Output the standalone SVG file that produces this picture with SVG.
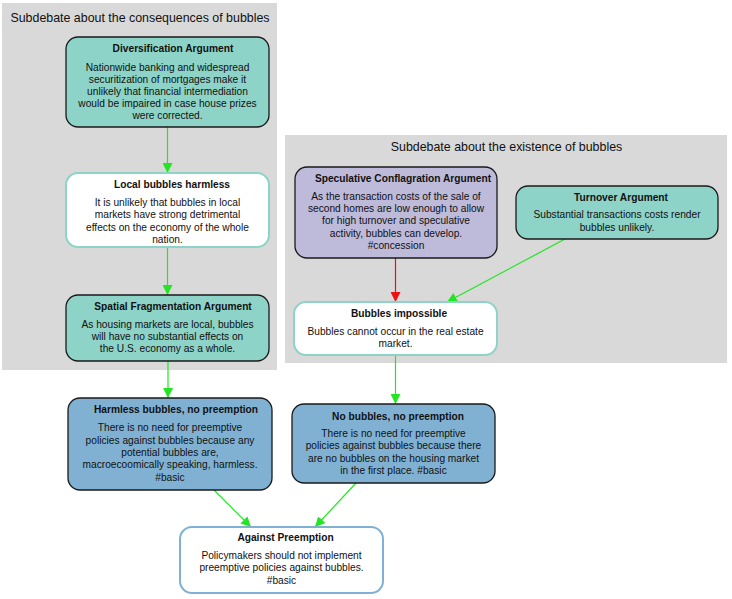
<svg xmlns="http://www.w3.org/2000/svg" width="732" height="599" viewBox="0 0 732 599">
<defs>
<style>
text{font-family:"Liberation Sans",Arial,sans-serif;fill:#111;text-anchor:middle}
.t{font-size:10.2px;font-weight:bold}
.b{font-size:10.2px}
.ct{font-size:12.4px}
.cl{fill:#d9d9d9;stroke:none}
.arg{fill:#8dd3c7;stroke:#1a1a1a;stroke-width:1.3}
.con{fill:#bebada;stroke:#1a1a1a;stroke-width:1.3}
.bas{fill:#80b1d3;stroke:#1a1a1a;stroke-width:1.3}
.stt{fill:#fff;stroke:#8dd3c7;stroke-width:2}
.stb{fill:#fff;stroke:#80b1d3;stroke-width:2}
.sup{stroke:#22e622;stroke-width:1.2;fill:none}
.att{stroke:#ee1111;stroke-width:1.2;fill:none}
</style>
<marker id="ag" viewBox="0 0 10 10" refX="10" refY="5" markerWidth="10" markerHeight="10" markerUnits="userSpaceOnUse" orient="auto"><path d="M0,0L10,5L0,10z" fill="#22e622"/></marker>
<marker id="ar" viewBox="0 0 10 10" refX="10" refY="5" markerWidth="10" markerHeight="10" markerUnits="userSpaceOnUse" orient="auto"><path d="M0,0L10,5L0,10z" fill="#ee1111"/></marker>
</defs>
<rect width="732" height="599" fill="#fff"/>
<g id="cluster_consequences">
<rect class="cl" x="2" y="3" width="275" height="367"/>
<text class="ct" x="140" y="21.5">Subdebate about the consequences of bubbles</text>
</g>
<g id="cluster_existence">
<rect class="cl" x="285" y="135" width="442" height="228"/>
<text class="ct" x="506.5" y="151">Subdebate about the existence of bubbles</text>
</g>
<g id="connectors">
<line class="sup" x1="167.5" y1="127" x2="167.5" y2="173" marker-end="url(#ag)"/>
<line class="sup" x1="167.5" y1="247" x2="167.5" y2="295" marker-end="url(#ag)"/>
<line class="sup" x1="168" y1="361" x2="168" y2="398" marker-end="url(#ag)"/>
<line class="att" x1="395.5" y1="258" x2="395.5" y2="302" marker-end="url(#ar)"/>
<line class="sup" x1="565" y1="239" x2="447" y2="302" marker-end="url(#ag)"/>
<line class="sup" x1="395.5" y1="355" x2="395.5" y2="404" marker-end="url(#ag)"/>
<line class="sup" x1="214" y1="490" x2="251" y2="527" marker-end="url(#ag)"/>
<line class="sup" x1="356" y1="483" x2="315" y2="527" marker-end="url(#ag)"/>
</g>
<g id="diversification">
<rect class="arg" x="66" y="37" width="203" height="90" rx="12"/>
<text class="t" x="173" y="51.5">Diversification Argument</text>
<text class="b" x="167.5" y="70.5">Nationwide banking and widespread</text>
<text class="b" x="167.5" y="82.5">securitization of mortgages make it</text>
<text class="b" x="167.5" y="94.5">unlikely that financial intermediation</text>
<text class="b" x="167.5" y="106.5">would be impaired in case house prizes</text>
<text class="b" x="167.5" y="118.5">were corrected.</text>
</g>
<g id="local_bubbles_harmless">
<rect class="stt" x="66" y="173" width="203" height="74" rx="12"/>
<text class="t" x="172" y="188">Local bubbles harmless</text>
<text class="b" x="167.5" y="206">It is unlikely that bubbles in local</text>
<text class="b" x="167.5" y="218">markets have strong detrimental</text>
<text class="b" x="167.5" y="230.5">effects on the economy of the whole</text>
<text class="b" x="167.5" y="242.5">nation.</text>
</g>
<g id="spatial_fragmentation">
<rect class="arg" x="66" y="295" width="203" height="66" rx="12"/>
<text class="t" x="173" y="310">Spatial Fragmentation Argument</text>
<text class="b" x="167.5" y="328">As housing markets are local, bubbles</text>
<text class="b" x="167.5" y="340">will have no substantial effects on</text>
<text class="b" x="167.5" y="352">the U.S. economy as a whole.</text>
</g>
<g id="speculative_conflagration">
<rect class="con" x="295" y="167" width="202" height="91" rx="12"/>
<text class="t" x="403" y="181.5">Speculative Conflagration Argument</text>
<text class="b" x="396" y="199.5">As the transaction costs of the sale of</text>
<text class="b" x="396" y="211.5">second homes are low enough to allow</text>
<text class="b" x="396" y="224">for high turnover and speculative</text>
<text class="b" x="396" y="236.5">activity, bubbles can develop.</text>
<text class="b" x="396" y="248.5">#concession</text>
</g>
<g id="turnover">
<rect class="arg" x="516" y="186" width="202" height="53" rx="12"/>
<text class="t" x="621" y="200.5">Turnover Argument</text>
<text class="b" x="617" y="218">Substantial transactions costs render</text>
<text class="b" x="617" y="230.5">bubbles unlikely.</text>
</g>
<g id="bubbles_impossible">
<rect class="stt" x="294" y="302" width="203" height="53" rx="12"/>
<text class="t" x="399" y="317">Bubbles impossible</text>
<text class="b" x="395.5" y="334.5">Bubbles cannot occur in the real estate</text>
<text class="b" x="395.5" y="346.5">market.</text>
</g>
<g id="harmless_no_preemption">
<rect class="bas" x="68" y="398" width="204" height="92" rx="12"/>
<text class="t" x="176" y="413">Harmless bubbles, no preemption</text>
<text class="b" x="170" y="431">There is no need for preemptive</text>
<text class="b" x="170" y="443.5">policies against bubbles because any</text>
<text class="b" x="170" y="456">potential bubbles are,</text>
<text class="b" x="170" y="468">macroecoomically speaking, harmless.</text>
<text class="b" x="170" y="481">#basic</text>
</g>
<g id="no_bubbles_no_preemption">
<rect class="bas" x="292" y="404" width="203" height="79" rx="12"/>
<text class="t" x="398" y="419.5">No bubbles, no preemption</text>
<text class="b" x="393.5" y="436.5">There is no need for preemptive</text>
<text class="b" x="393.5" y="449">policies against bubbles because there</text>
<text class="b" x="393.5" y="461.5">are no bubbles on the housing market</text>
<text class="b" x="393.5" y="474">in the first place. #basic</text>
</g>
<g id="against_preemption">
<rect class="stb" x="180" y="527" width="203" height="66" rx="12"/>
<text class="t" x="285.5" y="541">Against Preemption</text>
<text class="b" x="281.5" y="559">Policymakers should not implement</text>
<text class="b" x="281.5" y="571">preemptive policies against bubbles.</text>
<text class="b" x="281.5" y="583.5">#basic</text>
</g>
</svg>
